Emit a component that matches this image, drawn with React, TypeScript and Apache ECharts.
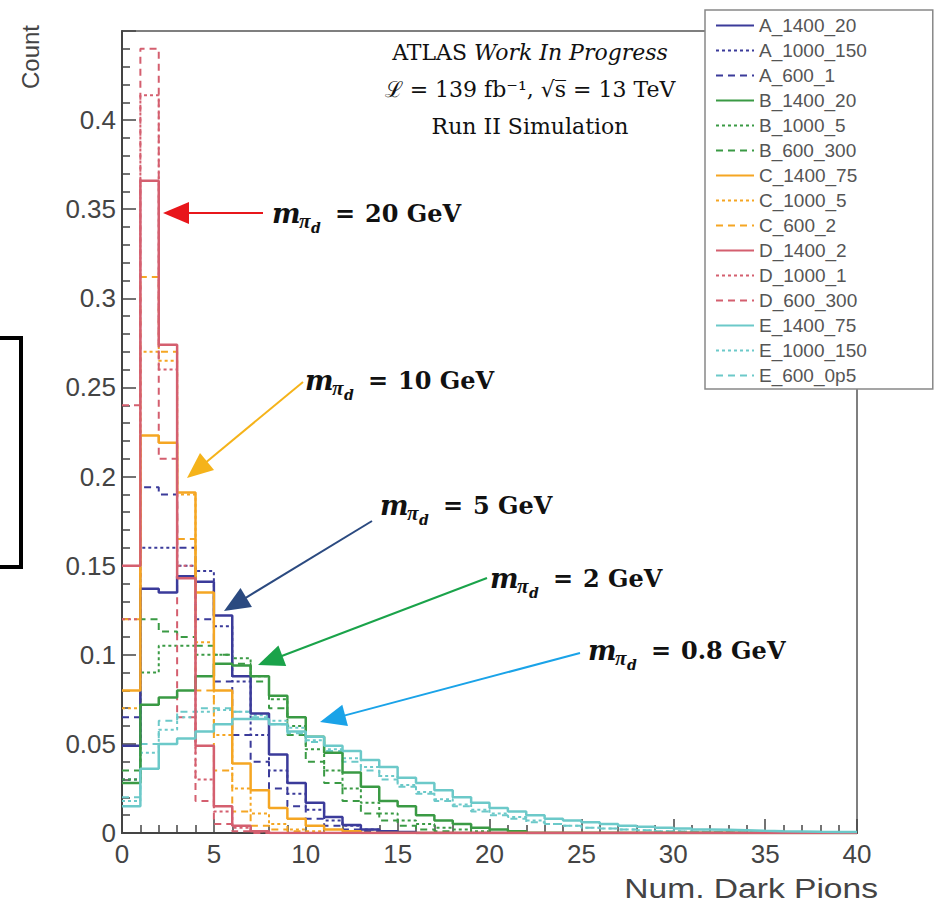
import React, { useEffect, useRef } from "react";
import * as echarts from "echarts";

// Histogram bins: bin i spans [i, i+1) in number of dark pions
const NBINS = 40;

const A_1400_20 = [0.049, 0.137, 0.135, 0.144, 0.141, 0.122, 0.088, 0.067, 0.044, 0.028, 0.017, 0.009, 0.0045, 0.002, 0.001, 0.0005];
const A_1000_150 = [0.03, 0.16, 0.16, 0.15, 0.147, 0.116, 0.085, 0.055, 0.035, 0.022, 0.013, 0.007, 0.004, 0.002, 0.001, 0.0005];
const A_600_1 = [0.065, 0.194, 0.19, 0.16, 0.12, 0.085, 0.055, 0.04, 0.025, 0.015, 0.008, 0.004, 0.002, 0.001];
const B_1400_20 = [0.028, 0.072, 0.076, 0.08, 0.088, 0.095, 0.094, 0.088, 0.077, 0.065, 0.054, 0.045, 0.034, 0.026, 0.018, 0.015, 0.01, 0.007, 0.005, 0.003, 0.002, 0.001];
const B_1000_5 = [0.03, 0.09, 0.105, 0.105, 0.1, 0.1, 0.098, 0.088, 0.075, 0.06, 0.047, 0.035, 0.025, 0.017, 0.011, 0.007, 0.005, 0.003, 0.002, 0.001];
const B_600_300 = [0.035, 0.12, 0.113, 0.11, 0.105, 0.1, 0.095, 0.085, 0.07, 0.055, 0.04, 0.028, 0.018, 0.011, 0.007, 0.004, 0.002, 0.001];
const C_1400_75 = [0.08, 0.223, 0.219, 0.191, 0.135, 0.08, 0.039, 0.024, 0.014, 0.008, 0.004, 0.002, 0.001];
const C_1000_5 = [0.07, 0.27, 0.265, 0.19, 0.107, 0.055, 0.025, 0.011, 0.005, 0.002, 0.001];
const C_600_2 = [0.12, 0.312, 0.27, 0.165, 0.08, 0.035, 0.012, 0.004, 0.002, 0.001];
const D_1400_2 = [0.15, 0.366, 0.274, 0.143, 0.049, 0.015, 0.004, 0.001];
const D_1000_1 = [0.12, 0.414, 0.26, 0.15, 0.03, 0.012, 0.003, 0.001];
const D_600_300 = [0.24, 0.44, 0.21, 0.065, 0.018, 0.005, 0.001];
const E_1400_75 = [0.015, 0.036, 0.05, 0.053, 0.057, 0.061, 0.064, 0.064, 0.061, 0.057, 0.054, 0.049, 0.046, 0.041, 0.037, 0.031, 0.028, 0.024, 0.02, 0.017, 0.014, 0.012, 0.01, 0.008, 0.007, 0.006, 0.005, 0.004, 0.0035, 0.003, 0.0025, 0.002, 0.0018, 0.0015, 0.0012, 0.001, 0.0009, 0.0007, 0.0006, 0.0005];
const E_1000_150 = [0.018, 0.045, 0.058, 0.065, 0.068, 0.069, 0.068, 0.066, 0.063, 0.059, 0.052, 0.047, 0.042, 0.037, 0.032, 0.027, 0.023, 0.019, 0.016, 0.013, 0.011, 0.009, 0.007, 0.005, 0.004, 0.003, 0.0025, 0.002, 0.0015, 0.001, 0.0008, 0.0006, 0.0005, 0.0004, 0.0003, 0.0002, 0.0002, 0.0001, 0.0001, 0.0001];
const E_600_0p5 = [0.02, 0.05, 0.063, 0.068, 0.07, 0.07, 0.068, 0.065, 0.061, 0.056, 0.051, 0.046, 0.04, 0.035, 0.03, 0.026, 0.022, 0.018, 0.015, 0.012, 0.01, 0.008, 0.006, 0.005, 0.004, 0.003, 0.0025, 0.002, 0.0015, 0.001, 0.0008, 0.0006, 0.0005, 0.0004, 0.0003, 0.0002, 0.0002, 0.0001, 0.0001, 0.0001];

const SERIES_NAMES = ["A_1400_20", "A_1000_150", "A_600_1", "B_1400_20", "B_1000_5", "B_600_300", "C_1400_75", "C_1000_5", "C_600_2", "D_1400_2", "D_1000_1", "D_600_300", "E_1400_75", "E_1000_150", "E_600_0p5"];
const SERIES_VALUES = [A_1400_20, A_1000_150, A_600_1, B_1400_20, B_1000_5, B_600_300, C_1400_75, C_1000_5, C_600_2, D_1400_2, D_1000_1, D_600_300, E_1400_75, E_1000_150, E_600_0p5];

const GROUP_COLORS = ["#3b3b9a", "#3a9a44", "#f5a623", "#d45f6f", "#6cc9c9"];
const STYLE_KINDS = ["solid", "dotted", "dashed"];

const Y_TICKS = [0, 0.05, 0.1, 0.15, 0.2, 0.25, 0.3, 0.35, 0.4];
const X_TICKS = [0, 5, 10, 15, 20, 25, 30, 35, 40];

const ANNOTATIONS = [
  { text: "20 GeV", color: "#e8161b" },
  { text: "10 GeV", color: "#f5b31a" },
  { text: "5 GeV", color: "#2b4a80" },
  { text: "2 GeV", color: "#1aa34a" },
  { text: "0.8 GeV", color: "#1aa3e8" },
];

function toSteps(values: number[]) {
  const pts: [number, number][] = [];
  for (let i = 0; i < NBINS; i++) pts.push([i, values[i] ?? 0]);
  pts.push([NBINS, values[NBINS - 1] ?? 0]);
  return pts;
}

function arrow(sx: number, sy: number, tx: number, ty: number, color: string) {
  const dx = tx - sx, dy = ty - sy;
  const len = Math.hypot(dx, dy);
  const ux = dx / len, uy = dy / len;
  const L = 26, W = 11;
  const bx = tx - ux * L, by = ty - uy * L;
  const px = -uy, py = ux;
  return [
    { type: "line", shape: { x1: sx, y1: sy, x2: bx + ux * 2, y2: by + uy * 2 }, style: { stroke: color, lineWidth: 2 } },
    { type: "polygon", shape: { points: [[tx, ty], [bx + px * W, by + py * W], [bx - px * W, by - py * W]] }, style: { fill: color } },
  ];
}

function massLabel(x: number, y: number, value: string) {
  const font = "DejaVu Serif";
  const mid = { textVerticalAlign: "middle", verticalAlign: "middle", fill: "#111" };
  return [
    { type: "text", x, y, style: { ...mid, text: "m", font: `italic bold 27px '${font}'` } },
    { type: "text", x: x + 27, y: y + 8, style: { ...mid, text: "π", font: `italic bold 21px 'Liberation Serif'` } },
    { type: "text", x: x + 39, y: y + 15, style: { ...mid, text: "d", font: `italic bold 14px '${font}'` } },
    { type: "text", x: x + 63, y, style: { ...mid, text: "=", font: `bold 24px '${font}'` } },
    { type: "text", x: x + 93, y, style: { ...mid, text: value, font: `bold 24px '${font}'` } },
  ];
}

export default function App() {
  const ref = useRef<HTMLDivElement>(null);
  useEffect(() => {
    if (!ref.current) return;
    const chart = echarts.init(ref.current, undefined, { renderer: "svg" });

    const series = SERIES_NAMES.map((name, i) => {
      const g = Math.floor(i / 3);
      const kind = STYLE_KINDS[i % 3];
      const type = kind === "solid" ? "solid" : kind === "dotted" ? [3, 3] : [7, 5];
      return {
        name,
        type: "line",
        step: "end",
        symbol: "none",
        data: toSteps(SERIES_VALUES[i]),
        lineStyle: { color: GROUP_COLORS[g], width: kind === "solid" ? 2.5 : 2, type },
        itemStyle: { color: GROUP_COLORS[g] },
        z: kind === "solid" ? 3 : 2,
      };
    });

    const arrowsPos = [
      [263, 213, 163, 213],
      [303, 382, 187, 478],
      [372, 521, 224, 611],
      [487, 578, 258, 665],
      [580, 653, 320, 722],
    ];
    const labelPos = [
      [272, 213],
      [305, 380],
      [380, 505],
      [490, 578],
      [588, 650],
    ];

    const graphics: any[] = [];
    ANNOTATIONS.forEach((a, i) => {
      const [sx, sy, tx, ty] = arrowsPos[i];
      graphics.push(...arrow(sx, sy, tx, ty, a.color));
      graphics.push(...massLabel(labelPos[i][0], labelPos[i][1], a.text));
    });

    const center = { textAlign: "center", align: "center", textVerticalAlign: "middle", verticalAlign: "middle" };
    graphics.push(
      {
        type: "text",
        x: 530,
        y: 52,
        style: {
          ...center,
          text: "{n|ATLAS }{i|Work In Progress}",
          rich: {
            n: { font: "22px 'DejaVu Serif'", fill: "#111" },
            i: { font: "italic 22px 'DejaVu Serif'", fill: "#111" },
          },
        },
      },
      {
        type: "text",
        x: 530,
        y: 89,
        style: { ...center, text: "ℒ = 139 fb⁻¹, √s̅ = 13 TeV", font: "22px 'DejaVu Serif'", fill: "#111" },
      },
      {
        type: "text",
        x: 530,
        y: 126,
        style: { ...center, text: "Run II Simulation", font: "22px 'DejaVu Serif'", fill: "#111" },
      },
      {
        type: "text",
        x: 30,
        y: 57,
        rotation: Math.PI / 2,
        style: { ...center, text: "Count", font: "24px 'Liberation Sans'", fill: "#444" },
      },
      {
        type: "text",
        x: 878,
        y: 888,
        scaleX: 1.2,
        style: { text: "Num. Dark Pions", font: "28px 'Liberation Sans'", fill: "#444", textAlign: "right", align: "right", textVerticalAlign: "middle", verticalAlign: "middle" },
      },
      {
        type: "rect",
        shape: { x: -10, y: 338, width: 31, height: 229 },
        style: { fill: "none", stroke: "#000", lineWidth: 4 },
      }
    );

    chart.setOption({
      animation: false,
      backgroundColor: "#fff",
      grid: { left: 122, right: 80, top: 31, bottom: 72, show: true, borderColor: "#555", borderWidth: 1.5, backgroundColor: "transparent" },
      xAxis: {
        type: "value",
        min: X_TICKS[0],
        max: X_TICKS[X_TICKS.length - 1],
        interval: 5,
        axisLine: { show: true, lineStyle: { color: "#444", width: 2 } },
        axisTick: { show: true, inside: true, length: 14, lineStyle: { color: "#444", width: 1.5 } },
        minorTick: { show: true, splitNumber: 5, length: 8, lineStyle: { color: "#444", width: 1.5 } },
        splitLine: { show: false },
        axisLabel: { fontSize: 26, color: "#444", fontFamily: "Liberation Sans", margin: 8 },
      },
      yAxis: {
        type: "value",
        min: 0,
        max: 0.45,
        interval: 0.05,
        axisLine: { show: true, lineStyle: { color: "#444", width: 2 } },
        axisTick: { show: true, inside: true, length: 14, lineStyle: { color: "#444", width: 1.5 } },
        minorTick: { show: true, splitNumber: 5, length: 8, lineStyle: { color: "#444", width: 1.5 } },
        splitLine: { show: false },
        axisLabel: {
          fontSize: 26,
          color: "#444",
          fontFamily: "Liberation Sans",
          margin: 6,
          formatter: (v: number) => (Y_TICKS.some((t) => Math.abs(t - v) < 1e-6) ? String(+v.toFixed(2)) : ""),
        },
      },
      legend: {
        show: true,
        orient: "vertical",
        left: 705,
        top: 10,
        padding: [6, 66, 4, 10],
        itemWidth: 38,
        itemHeight: 14,
        itemGap: 6,
        backgroundColor: "#fff",
        borderColor: "#888",
        borderWidth: 1.5,
        borderRadius: 0,
        itemStyle: { color: "rgba(0,0,0,0)", borderColor: "rgba(0,0,0,0)", borderWidth: 0 },
        textStyle: { fontSize: 19, color: "#555", fontFamily: "Liberation Sans", lineHeight: 19 },
        data: SERIES_NAMES,
        z: 10,
      },
      series,
      graphic: { elements: graphics },
    });
    return () => chart.dispose();
  }, []);
  return <div ref={ref} style={{ position: "absolute", left: 0, top: 0, width: 937, height: 905 }} />;
}
